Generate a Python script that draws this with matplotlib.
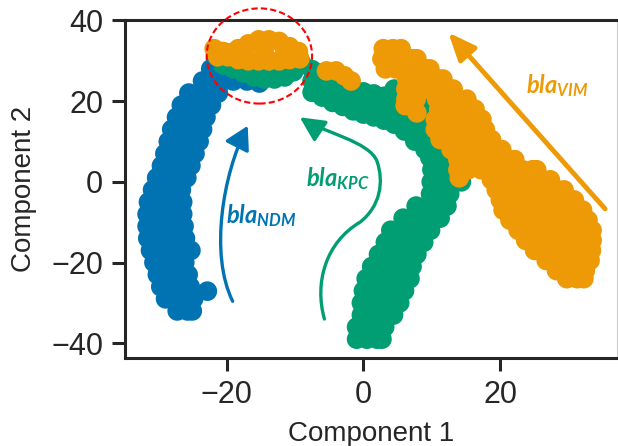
import matplotlib
matplotlib.use("Agg")
import matplotlib.pyplot as plt
from matplotlib.patches import FancyArrowPatch, Ellipse, ArrowStyle
from matplotlib.path import Path

plt.rcParams['font.family'] = ['Liberation Sans', 'DejaVu Sans']
plt.rcParams['mathtext.fontset'] = 'custom'
plt.rcParams['mathtext.bfit'] = 'Lato:italic:bold'
plt.rcParams['mathtext.bf'] = 'Lato:bold'
plt.rcParams['mathtext.it'] = 'Lato:italic'
plt.rcParams['mathtext.rm'] = 'Lato'

BLUE = "#0173B2"
GREEN = "#029E73"
ORANGE = "#EE9A06"

# bla_NDM cluster (blue)
ndm_x = [-27.2, -25.7, -25.0,
         -28.9, -27.4, -25.9, -24.8, -22.8,
         -29.6, -28.1, -26.6, -25.3,
         -30.1, -28.6, -27.1, -25.6,
         -30.6, -29.1, -27.6, -26.1,
         -31.1, -29.6, -28.1, -26.6, -25.2,
         -31.5, -30.0, -28.5, -27.0, -26.0,
         -31.6, -30.1, -28.6, -27.1, -26.2,
         -31.6, -30.1, -28.6, -27.1, -26.4,
         -31.4, -29.9, -28.4, -26.9, -26.4,
         -30.8, -29.3, -27.8, -26.6,
         -30.2, -28.7, -27.2, -25.8,
         -29.5, -28.0, -26.5, -25.2,
         -29.0, -27.5, -26.0, -24.6,
         -28.5, -27.0, -25.5, -24.0,
         -28.0, -26.5, -25.0, -23.5,
         -27.3, -25.8, -24.3, -23.0,
         -26.6, -25.1, -23.6, -22.2,
         -25.5, -24.0, -22.5, -21.2,
         -23.5, -22.0, -20.5, -19.0, -17.0, -15.2,
         -22.3, -21.0, -19.5,
         -21.5]
ndm_y = [-32, -32, -32,
         -29, -29, -29, -29, -27.1,
         -26, -26, -26, -26,
         -23, -23, -23, -23,
         -20, -20, -20, -20,
         -17, -17, -17, -17, -17,
         -14, -14, -14, -14, -14,
         -11, -11, -11, -11, -11,
         -8, -8, -8, -8, -8,
         -5, -5, -5, -5, -5,
         -2, -2, -2, -2,
         1, 1, 1, 1,
         4, 4, 4, 4,
         7, 7, 7, 7,
         10, 10, 10, 10,
         13, 13, 13, 13,
         16, 16, 16, 16,
         19, 19, 19, 19,
         22, 22, 22, 22,
         25, 25, 25, 25, 25, 24.5,
         28, 28, 28,
         31]

# bla_KPC cluster (green)
kpc_x = [-20.5, -19.0, -17.5, -16.0, -14.5, -13.0, -11.5, -10.2, -9.0, -18.0, -15.0, -12.0,
         -7.5, -7.5, -7.5,
         -6.0, -6.0, -6.0,
         -4.5, -4.5, -4.5,
         -3.0, -3.0, -3.0,
         -1.5, -1.5, -1.5,
         0.0, 0.0, 0.0,
         1.5, 1.5, 1.5,
         3.0, 3.0, 3.0,
         4.5, 4.5, 4.5, 4.5,
         6.0, 6.0, 6.0, 6.0,
         7.5, 7.5, 7.5, 7.5,
         9.0, 9.0, 9.0, 9.0,
         8.8, 10.3, 11.8,
         9.7, 11.2, 12.7,
         10.0, 11.5, 13.0, 14.0,
         9.9, 11.4, 12.9, 14.3,
         9.8, 11.3, 12.6,
         7.7, 9.2, 10.7, 12.2,
         5.8, 7.3, 8.8, 10.3, 11.2,
         4.0, 5.5, 7.0, 8.5, 9.8,
         3.2, 4.7, 6.2, 7.7, 8.8,
         2.2, 3.7, 5.2, 6.7, 7.8,
         1.2, 2.7, 4.2, 5.7, 7.1,
         0.4, 1.9, 3.4, 4.9, 6.4, 6.8,
         0.0, 1.5, 3.0, 4.5, 6.0,
         -0.3, 1.2, 2.7, 4.2, 5.3,
         -0.3, 1.2, 2.7, 4.2, 4.4,
         -1.0, 0.5, 2.0, 3.1,
         -1.0, 0.5, 2.0, 2.7]
kpc_y = [29.0, 28.0, 27.0, 26.0, 25.5, 25.5, 26.0, 27.3, 29.3, 30.0, 29.0, 29.0,
         22.2, 25.0, 27.8,
         21.0, 24.0, 27.0,
         19.7, 22.5, 25.0,
         18.7, 21.5, 24.3,
         17.6, 20.4, 23.0,
         16.8, 19.6, 22.3,
         16.1, 19.0, 21.8,
         15.3, 18.2, 21.2,
         14.3, 17.2, 20.0, 23.0,
         12.6, 15.5, 18.5, 21.5,
         10.1, 13.0, 16.0, 19.0,
         8.0, 11.0, 14.0, 18.5,
         9, 9, 9,
         6, 6, 6,
         3, 3, 3, 3,
         0, 0, 0, 0,
         -3, -3, -3,
         -6, -6, -6, -6,
         -9, -9, -9, -9, -9,
         -12, -12, -12, -12, -12,
         -15, -15, -15, -15, -15,
         -18, -18, -18, -18, -18,
         -21, -21, -21, -21, -21,
         -24, -24, -24, -24, -24, -24,
         -27, -27, -27, -27, -27,
         -30, -30, -30, -30, -30,
         -33, -33, -33, -33, -33,
         -36, -36, -36, -36,
         -39, -39, -39, -39]

# bla_VIM cluster (orange)
vim_x = [-21.8, -21.3, -19.8, -18.3, -16.8, -15.3, -13.8, -12.3, -10.8, -9.3,
         -18.3, -16.8, -15.3, -13.8, -12.3, -10.8, -9.5, -19.8,
         -20.5, -17.5, -14.5, -11.5,
         -5.4, -4.0, -2.8, -1.8,
         2.9, 4.3, 5.5,
         2.7, 4.2, 5.7, 7.2, 7.8,
         3.2, 4.7, 6.2, 7.7, 9.2, 9.7,
         6.3, 7.8, 9.3, 10.8, 11.6,
         6.2, 7.7, 9.2, 10.7, 12.2, 13.1,
         6.2, 7.7, 10.7, 12.2, 13.7, 15.1,
         6.1, 7.8, 11.0, 12.5, 14.0, 15.5, 16.3,
         10.5, 12.0, 13.5, 15.0, 16.5, 17.3,
         10.5, 12.0, 13.5, 15.0, 16.5, 17.8,
         11.2, 12.7, 14.2, 15.7, 17.2, 18.7,
         12.8, 14.3, 15.8, 17.3, 18.8, 20.2,
         13.8, 15.3, 16.8, 18.3, 19.8, 21.3, 22.1,
         13.8, 15.3, 17.2, 18.7, 20.2, 21.7, 23.2, 24.7, 25.3,
         14.0, 18.7, 20.2, 21.7, 23.2, 24.7, 26.2, 27.3,
         19.4, 20.9, 22.4, 23.9, 25.4, 26.9, 28.4, 29.3,
         20.0, 21.5, 23.0, 24.5, 26.0, 27.5, 29.0, 30.5, 30.8,
         20.4, 21.9, 23.4, 24.9, 26.4, 27.9, 29.4, 30.9, 32.0,
         21.4, 22.9, 24.4, 25.9, 27.4, 28.9, 30.4, 31.9, 32.8,
         22.6, 24.1, 25.6, 27.1, 28.6, 30.1, 31.6, 33.1, 33.4,
         23.7, 25.2, 26.7, 28.2, 29.7, 31.2, 32.7, 33.4,
         25.0, 26.5, 28.0, 29.5, 31.0, 32.5, 33.3,
         26.7, 28.2, 29.7, 31.2, 32.7, 33.1,
         28.2, 29.7, 31.2, 32.4,
         29.7, 31.2, 32.2]
vim_y = [33.0, 31.0, 31.0, 30.3, 30.0, 30.0, 30.0, 30.0, 30.3, 30.5,
         33.0, 34.2, 35.2, 35.2, 34.8, 33.5, 32.3, 32.0,
         32.3, 32.3, 32.3, 32.3,
         27.5, 27.5, 26.3, 25.0,
         33, 33, 33,
         30.5, 30.5, 30.5, 30.5, 30.5,
         28, 28, 28, 28, 28, 28,
         25.5, 25.5, 25.5, 25.5, 25.5,
         23, 23, 23, 23, 23, 23,
         20.5, 20.5, 20.5, 20.5, 20.5, 20.5,
         18.9, 17.1, 18, 18, 18, 18, 18,
         15.5, 15.5, 15.5, 15.5, 15.5, 15.5,
         13, 13, 13, 13, 13, 13,
         10.5, 10.5, 10.5, 10.5, 10.5, 10.5,
         8, 8, 8, 8, 8, 8,
         5.5, 5.5, 5.5, 5.5, 5.5, 5.5, 5.5,
         3, 3, 3, 3, 3, 3, 3, 3, 3,
         1.0, 0.5, 0.5, 0.5, 0.5, 0.5, 0.5, 0.5,
         -2, -2, -2, -2, -2, -2, -2, -2,
         -4.5, -4.5, -4.5, -4.5, -4.5, -4.5, -4.5, -4.5, -4.5,
         -7, -7, -7, -7, -7, -7, -7, -7, -7,
         -9.5, -9.5, -9.5, -9.5, -9.5, -9.5, -9.5, -9.5, -9.5,
         -12, -12, -12, -12, -12, -12, -12, -12, -12,
         -14.5, -14.5, -14.5, -14.5, -14.5, -14.5, -14.5, -14.5,
         -17, -17, -17, -17, -17, -17, -17,
         -19.5, -19.5, -19.5, -19.5, -19.5, -19.5,
         -22, -22, -22, -22,
         -24, -24, -24]

fig = plt.figure(figsize=(6.18, 4.46), dpi=100)
ax = fig.add_axes([0.202, 0.197, 0.796, 0.758])

s = 200
ax.scatter(ndm_x, ndm_y, s=s, color=BLUE, edgecolors='none', zorder=2)
ax.scatter(kpc_x, kpc_y, s=s, color=GREEN, edgecolors='none', zorder=3)
ax.scatter(vim_x, vim_y, s=s, color=ORANGE, edgecolors='none', zorder=4)

ax.set_xlim(-34.85, 37.0)
ax.set_ylim(-43.7, 40.1)
ax.set_xticks([-20, 0, 20])
ax.set_yticks([-40, -20, 0, 20, 40])
ax.set_xlabel("Component 1", fontsize=20, color='#262626', labelpad=8)
ax.set_ylabel("Component 2", fontsize=20, color='#262626', labelpad=10)
ax.tick_params(axis='both', labelsize=22, length=9.5, width=2.2, pad=6,
               colors='#262626', direction='out')
for side in ['left', 'bottom', 'top']:
    ax.spines[side].set_linewidth(2.2)
    ax.spines[side].set_color('#262626')
ax.spines['right'].set_linewidth(0.8)
ax.spines['right'].set_color('#cccccc')

# curved arrows
ndm_path = Path([(-19.1, -29.6), (-22.5, -18), (-20.5, 2), (-16.9, 13.9)],
                [Path.MOVETO, Path.CURVE4, Path.CURVE4, Path.CURVE4])
ax.add_patch(FancyArrowPatch(path=ndm_path,
                             arrowstyle=ArrowStyle('-|>', head_length=0.7, head_width=0.4),
                             mutation_scale=20, lw=2.4, color=BLUE, zorder=5))

kpc_path = Path([(-5.7, -34.0), (-7.2, -25), (-5.5, -15), (-0.5, -10),
                 (2.5, -6), (3, 0), (2.0, 5),
                 (1, 10), (-6.2, 12.5), (-9.3, 16.0)],
                [Path.MOVETO, Path.CURVE4, Path.CURVE4, Path.CURVE4,
                 Path.CURVE4, Path.CURVE4, Path.CURVE4,
                 Path.CURVE4, Path.CURVE4, Path.CURVE4])
ax.add_patch(FancyArrowPatch(path=kpc_path,
                             arrowstyle=ArrowStyle('-|>', head_length=0.75, head_width=0.37),
                             mutation_scale=20, lw=2.4, color=GREEN, zorder=5))

ax.annotate('', xy=(12.4, 37.0), xytext=(35.3, -6.7),
            arrowprops=dict(arrowstyle='-|>,head_length=0.83,head_width=0.35',
                            mutation_scale=20, lw=3.5, color=ORANGE,
                            shrinkA=0, shrinkB=0), zorder=5)

ax.text(-14.9, -10.2, r'$\mathbfit{bla}_{\mathbfit{NDM}}$', color=BLUE,
        fontsize=17, ha='center', va='baseline', zorder=6)
ax.text(-3.75, -1.2, r'$\mathbfit{bla}_{\mathbfit{KPC}}$', color=GREEN,
        fontsize=17, ha='center', va='baseline', zorder=6)
ax.text(28.3, 21.9, r'$\mathbfit{bla}_{\mathbfit{VIM}}$', color=ORANGE,
        fontsize=17, ha='center', va='baseline', zorder=6)

ax.add_patch(Ellipse((-15.2, 31.2), width=15.4, height=23.6, fill=False,
                     edgecolor='red', lw=1.5, linestyle=(0, (3, 1.5)),
                     clip_on=False, zorder=7))

fig.savefig("out.png", dpi=100)
